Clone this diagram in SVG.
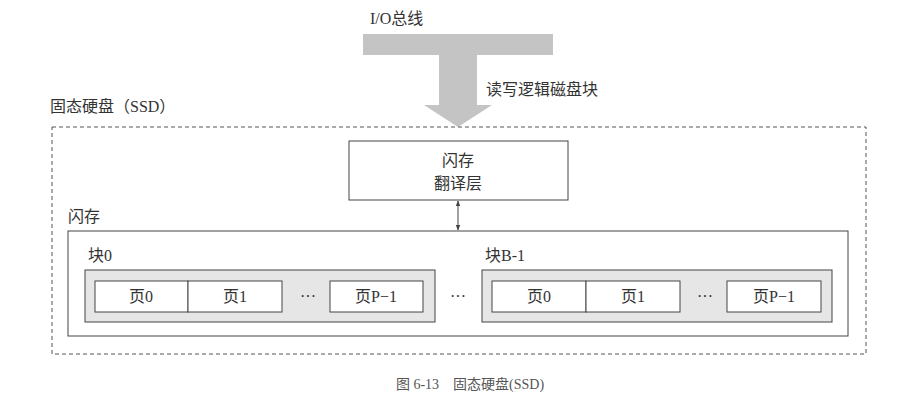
<svg xmlns="http://www.w3.org/2000/svg" width="920" height="415" viewBox="0 0 920 415">
<style>
text{font-family:"Liberation Serif","Noto Sans CJK SC",serif;font-size:16px;fill:#333}
.c{text-anchor:middle}
.box{fill:#fff;stroke:#444;stroke-width:1}
.blk{fill:#e6e6e6;stroke:#444;stroke-width:1}
</style>
<defs>
<marker id="ah" viewBox="0 0 10 10" refX="9" refY="5" markerWidth="6" markerHeight="6" orient="auto-start-reverse"><path d="M0,1 L10,5 L0,9 Z" fill="#444"/></marker>
</defs>
<rect width="920" height="415" fill="#fff"/>
<g id="bus">
<path d="M363,34 H553 V55 H477 V105 H492 L458,127 L424,105 H439 V55 H363 Z" fill="#c4c4c4"/>
<text x="370" y="24">I/O总线</text>
<text x="486" y="95">读写逻辑磁盘块</text>
</g>
<g id="ssd">
<rect x="52" y="127" width="814" height="227" fill="none" stroke="#555" stroke-dasharray="4,3"/>
<text x="50" y="112">固态硬盘（SSD）</text>
</g>
<g id="ftl">
<rect class="box" x="349" y="141" width="219" height="59"/>
<text class="c" x="458" y="166">闪存</text>
<text class="c" x="458" y="189">翻译层</text>
</g>
<g id="flash">
<rect class="box" x="68" y="231" width="780" height="105"/>
<text x="68" y="222">闪存</text>
</g>
<g id="block0">
<text x="88" y="261">块0</text>
<rect class="blk" x="85" y="270" width="350" height="52"/>
<rect class="box" x="95" y="281" width="93" height="31"/>
<rect class="box" x="188" y="281" width="94" height="31"/>
<rect class="box" x="330" y="281" width="93" height="31"/>
<text class="c" x="141" y="302">页0</text>
<text class="c" x="235" y="302">页1</text>
<text class="c" x="308" y="302">···</text>
<text class="c" x="376" y="302">页P−1</text>
</g>
<text class="c" x="458" y="302">···</text>
<g id="blockB">
<text x="485" y="261">块B-1</text>
<rect class="blk" x="482" y="270" width="350" height="52"/>
<rect class="box" x="492" y="281" width="94" height="31"/>
<rect class="box" x="586" y="281" width="94" height="31"/>
<rect class="box" x="727" y="281" width="94" height="31"/>
<text class="c" x="539" y="302">页0</text>
<text class="c" x="633" y="302">页1</text>
<text class="c" x="705" y="302">···</text>
<text class="c" x="774" y="302">页P−1</text>
</g>
<g id="connectors">
<line x1="458" y1="201" x2="458" y2="230" stroke="#444" marker-start="url(#ah)" marker-end="url(#ah)"/>
</g>
<text class="c" x="470" y="389" style="font-size:14px;fill:#555">图 6-13　固态硬盘(SSD)</text>
</svg>
